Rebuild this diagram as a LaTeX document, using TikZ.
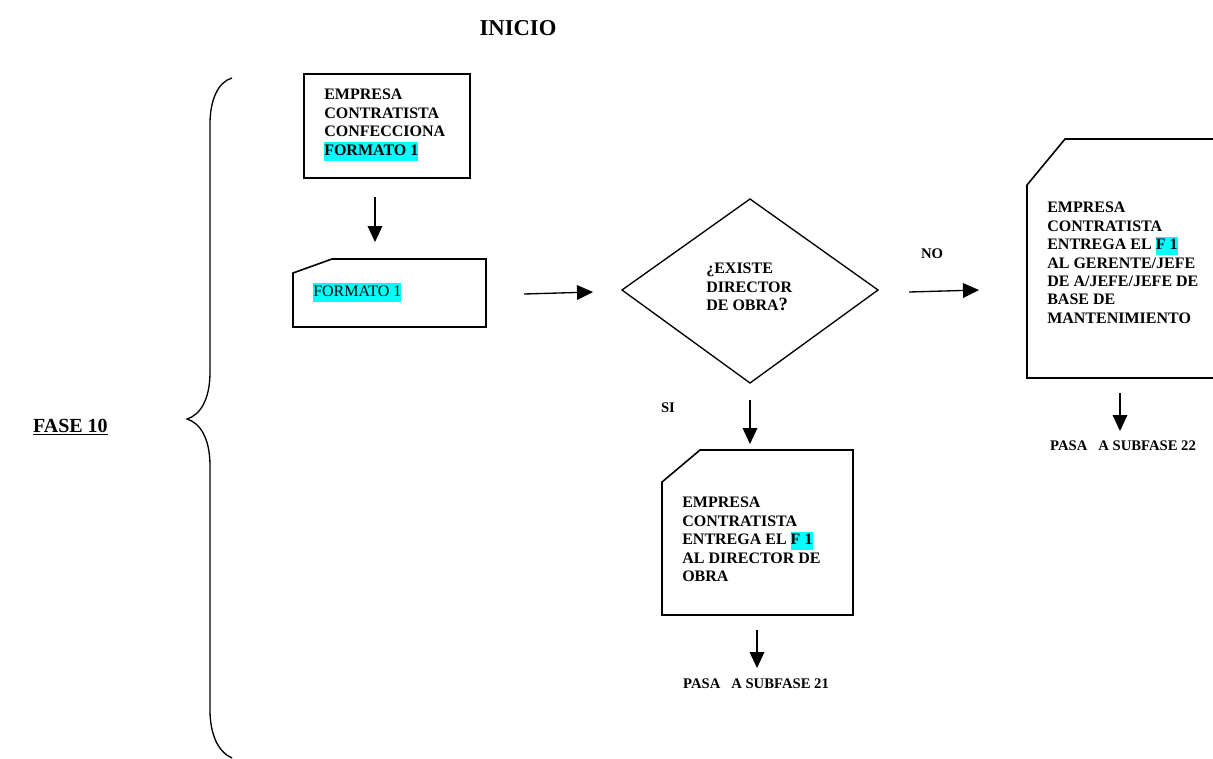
\documentclass[tikz,border=0pt]{standalone}
\usepackage{fontspec}
\setmainfont{Liberation Serif}
\usetikzlibrary{arrows.meta,positioning,calc}

\definecolor{marker}{RGB}{0,255,255}
\newcommand{\hlcyan}[1]{{\setlength{\fboxsep}{0pt}\colorbox{marker}{\strut #1}}}

\tikzset{
  boxline/.style={line width=1.2pt, line join=miter},
  flow/.style={-{Triangle[length=12pt,width=11pt]}, line width=1pt},
  bodytext/.style={font=\bfseries\fontsize{12}{13.8}\selectfont, align=left, anchor=north west, inner sep=0pt},
  smalltext/.style={font=\bfseries\fontsize{11}{13}\selectfont, inner sep=0pt},
}

\begin{document}
\begin{tikzpicture}[x=0.75pt, y=-0.75pt]
    \useasboundingbox (0,0) rectangle (1213,758);

    % Title
    \node[inner sep=0pt, font=\bfseries\fontsize{17}{19}\selectfont] (inicio) at (518,28) {INICIO};

    % Brace and phase label
    \draw[line width=1pt] (232,78) .. controls (218,82) and (210,100) .. (210,124) -- (210,372)
        .. controls (210,400) and (200,415) .. (187,419)
        .. controls (200,423) and (210,438) .. (210,466) -- (210,710)
        .. controls (210,734) and (218,752) .. (232,758);
    \node[inner sep=0pt, anchor=base east, font=\bfseries\fontsize{15}{17}\selectfont] (fase) at (108,432) {\underline{FASE 10}};

    % Process box
    \coordinate (b1nw) at (304,74);
    \coordinate (b1se) at (470,178);
    \draw[boxline] (b1nw) rectangle (b1se);
    \node[bodytext] (confecciona) at (324,89) {EMPRESA\\CONTRATISTA\\CONFECCIONA\\\hlcyan{FORMATO 1}};

    % Document card
    \coordinate (c1a) at (293,273);
    \coordinate (c1b) at (332,259);
    \coordinate (c1c) at (486,259);
    \coordinate (c1d) at (486,327);
    \coordinate (c1e) at (293,327);
    \draw[boxline] (c1a) -- (c1b) -- (c1c) -- (c1d) -- (c1e) -- cycle;
    \node[inner sep=0pt, anchor=west, font=\fontsize{12}{13.8}\selectfont] (formato) at (313,292.5) {\hlcyan{FORMATO 1}};

    % Decision
    \coordinate (dl) at (622,290);
    \coordinate (dt) at (750,199);
    \coordinate (dr) at (878,290);
    \coordinate (db) at (750,383);
    \draw[line width=1pt] (dl) -- (dt) -- (dr) -- (db) -- cycle;
    \node[bodytext] (pregunta) at (706,263) {¿EXISTE\\DIRECTOR\\DE OBRA{\fontsize{14}{14}\selectfont ?}};

    % Card NO
    \coordinate (c2a) at (1027,185);
    \coordinate (c2b) at (1065,139);
    \coordinate (c2c) at (1225,139);
    \coordinate (c2d) at (1225,378);
    \coordinate (c2e) at (1027,378);
    \draw[boxline] (c2a) -- (c2b) -- (c2c) -- (c2d) -- (c2e) -- cycle;
    \node[bodytext] (entregago) at (1047,202) {EMPRESA\\CONTRATISTA\\ENTREGA EL \hlcyan{F 1}\\AL GERENTE/JEFE\\DE A/JEFE/JEFE DE\\BASE DE\\MANTENIMIENTO};

    % Card SI
    \coordinate (c3a) at (662,482);
    \coordinate (c3b) at (700,450);
    \coordinate (c3c) at (853,450);
    \coordinate (c3d) at (853,615);
    \coordinate (c3e) at (662,615);
    \draw[boxline] (c3a) -- (c3b) -- (c3c) -- (c3d) -- (c3e) -- cycle;
    \node[bodytext] (entregado) at (682,497) {EMPRESA\\CONTRATISTA\\ENTREGA EL \hlcyan{F 1}\\AL DIRECTOR DE\\OBRA};

    % Arrows
    \coordinate (a1s) at (375,197);
    \coordinate (a1e) at (375,242);
    \coordinate (a2s) at (524,294);
    \coordinate (a2e) at (593,292);
    \coordinate (a3s) at (909,292);
    \coordinate (a3e) at (979,290);
    \coordinate (a4s) at (750,400);
    \coordinate (a4e) at (750,444);
    \coordinate (a5s) at (757,630);
    \coordinate (a5e) at (757,668);
    \coordinate (a6s) at (1120,393);
    \coordinate (a6e) at (1120,431);
    \draw[flow] (a1s) -- (a1e);
    \draw[flow] (a2s) -- (a2e);
    \draw[flow] (a3s) -- (a3e);
    \draw[flow] (a4s) -- (a4e);
    \draw[flow] (a5s) -- (a5e);
    \draw[flow] (a6s) -- (a6e);

    % Branch labels
    \node[smalltext] (no) at (932,254) {NO};
    \node[smalltext] (si) at (668,408) {SI};

    % Exits
    \node[smalltext] (pasa21) at (756,684) {PASA\ \ \ A SUBFASE 21};
    \node[smalltext] (pasa22) at (1123,446) {PASA\ \ \ A SUBFASE 22};

\end{tikzpicture}
\end{document}
